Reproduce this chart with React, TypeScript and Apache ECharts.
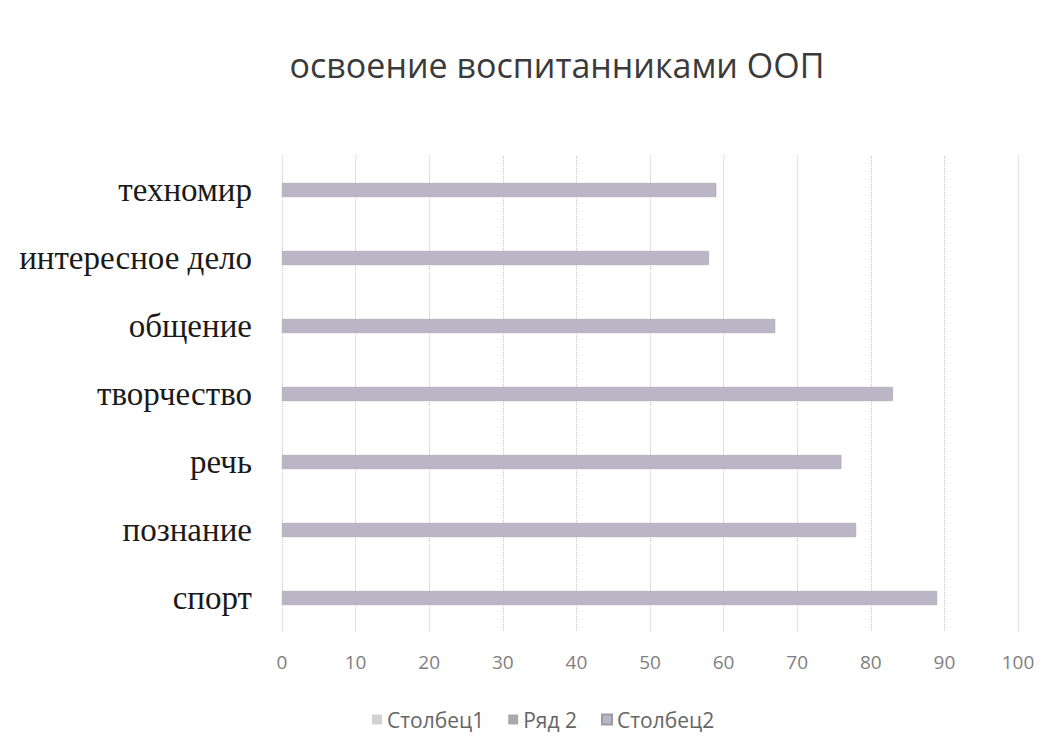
import React, { useEffect, useRef } from "react";
import * as echarts from "echarts";

const categories = ["спорт", "познание", "речь", "творчество", "общение", "интересное дело", "техномир"];
const series1Values: (number | null)[] = [];
const series2Values: (number | null)[] = [];
const series3Values = [89, 78, 76, 83, 67, 58, 59];
const xTicks = [0, 10, 20, 30, 40, 50, 60, 70, 80, 90, 100];

export default function App() {
  const ref = useRef<HTMLDivElement>(null);
  useEffect(() => {
    if (!ref.current) return;
    const chart = echarts.init(ref.current, undefined, { renderer: "svg" });
    chart.setOption({
      animation: false,
      backgroundColor: "#ffffff",
      title: {
        text: "освоение воспитанниками ООП",
        left: 552,
        top: 43,
        textAlign: "center",
        textStyle: { fontFamily: "Open Sans", fontSize: 34, fontWeight: "normal", color: "#3a3a3a" },
      },
      grid: { left: 282, right: 33, top: 156, bottom: 117, containLabel: false },
      legend: {
        top: 704,
        left: 367,
        itemWidth: 10,
        itemHeight: 10,
        itemGap: 24,
        icon: "rect",
        textStyle: { fontFamily: "Open Sans", fontSize: 21, color: "#666" },
        data: ["Столбец1", "Ряд 2", "Столбец2"],
      },
      xAxis: {
        type: "value",
        min: 0,
        max: xTicks[xTicks.length - 1],
        interval: 10,
        axisLine: { show: false },
        axisTick: { show: false },
        axisLabel: { fontFamily: "Open Sans", fontSize: 19, color: "#808080", margin: 20 },
        splitLine: { show: true, lineStyle: { color: "#c8c8c8", type: "dotted", width: 1 } },
      },
      yAxis: {
        type: "category",
        data: categories,
        axisLine: { show: false },
        axisTick: { show: false },
        axisLabel: { fontFamily: "Liberation Serif", fontSize: 33, color: "#1a1a1a", margin: 30 },
        splitLine: { show: false },
      },
      series: [
        { name: "Столбец1", type: "bar", data: series1Values, barWidth: 14, barGap: "-100%", itemStyle: { color: "#d2d2d6" } },
        { name: "Ряд 2", type: "bar", data: series2Values, barWidth: 14, barGap: "-100%", itemStyle: { color: "#a9a9ad" } },
        { name: "Столбец2", type: "bar", data: series3Values, barWidth: 14, barGap: "-100%", itemStyle: { color: "#bab6c6", borderColor: "#9c99a6", borderWidth: 0.5 } },
      ],
    });
    return () => chart.dispose();
  }, []);
  return <div ref={ref} style={{ position: "fixed", left: 0, top: 0, width: 1051, height: 749 }} />;
}
